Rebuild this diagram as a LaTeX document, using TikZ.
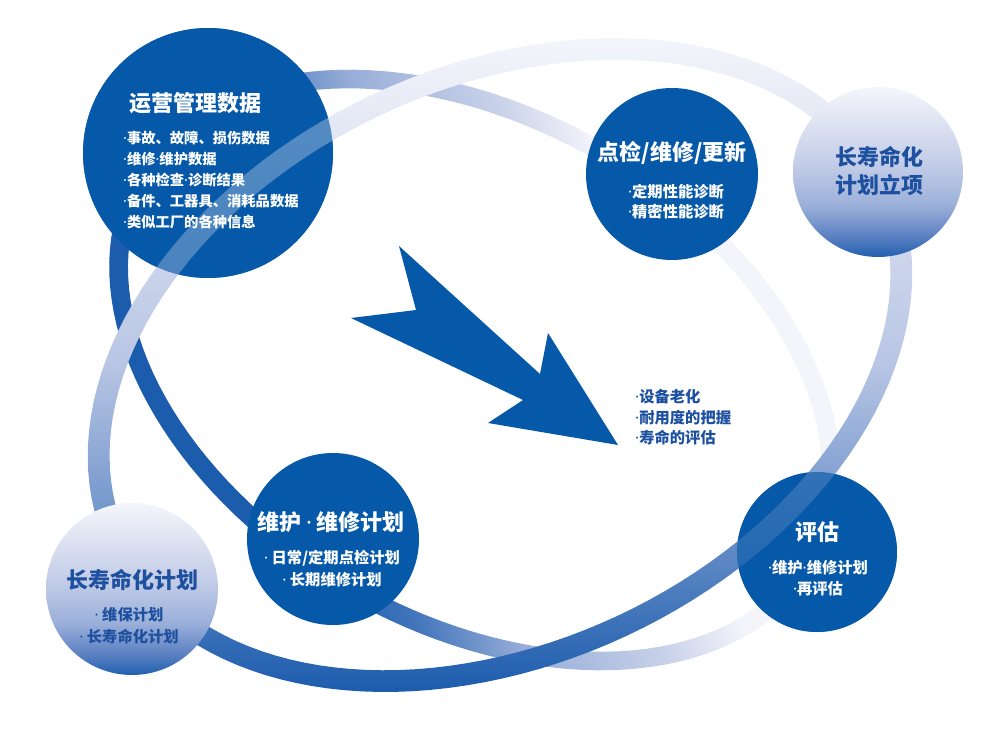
\documentclass[tikz,border=0pt]{standalone}
\usepackage{fontspec}
\newfontfamily\cjkfont{Noto Sans CJK SC}
\newfontfamily\dotfont{Noto Sans}
\newcommand{\dotmark}{{\dotfont ·}}
\definecolor{ballblue}{HTML}{0659A8}
\definecolor{inkblue}{HTML}{1E50A0}
\definecolor{ringdark}{HTML}{1C5CAD}
\definecolor{ringmid}{HTML}{B8C5E4}
\definecolor{ringpale}{HTML}{F4F5FB}
\definecolor{ringzmid}{HTML}{4074BA}
\definecolor{ringzlav}{HTML}{97ADD8}
\definecolor{ringzlight}{HTML}{C8D1E9}
\definecolor{ballbot}{HTML}{2160AF}
\definecolor{balllow}{HTML}{5A80C2}
\definecolor{ballmid}{HTML}{9AAFD9}
\definecolor{balllav}{HTML}{C2CCE7}
\definecolor{balltop}{HTML}{F5F6FB}
\pgfdeclarehorizontalshading{ringzshade}{100bp}{color(0bp)=(ringdark); color(35bp)=(ringdark); color(40.5bp)=(ringzmid); color(47.5bp)=(ringzlav); color(57bp)=(ringzlight); color(63bp)=(ringpale); color(100bp)=(ringpale)}
\pgfdeclareverticalshading{paleshade}{100bp}{color(0bp)=(ballbot); color(25bp)=(ballbot); color(31bp)=(balllow); color(40bp)=(ballmid); color(52bp)=(balllav); color(75bp)=(balltop); color(100bp)=(balltop)}
\begin{document}
\begin{tikzpicture}[x=1pt, y=-1pt]
\tikzstyle{darkball}=[circle, fill=ballblue, inner sep=0pt]
\tikzstyle{paleball}=[circle, shade, shading=paleshade, inner sep=0pt]
\tikzstyle{balltitle}=[font=\cjkfont\bfseries\fontsize{22}{28}\selectfont, text=white, inner sep=0pt, align=center]
\tikzstyle{balllist}=[font=\cjkfont\bfseries\fontsize{15.3}{21}\selectfont, text=white, inner sep=0pt, align=center]
\useasboundingbox (0,0) rectangle (983,739);
% inner ring, behind the dark circles
\shade[shading=ringzshade, shading angle=17, even odd rule]
  plot[domain=0:360, samples=145] ({475+394.5*cos(\x)*0.866-261.5*sin(\x)*0.5}, {370+394.5*cos(\x)*0.5+261.5*sin(\x)*0.866}) -- cycle
  plot[domain=360:0, samples=145] ({475+375.5*cos(\x)*0.866-242.5*sin(\x)*0.5}, {370+375.5*cos(\x)*0.5+242.5*sin(\x)*0.866}) -- cycle;
\node[darkball, minimum size=250pt] (data) at (208,153) {};
\node[darkball, minimum size=172pt] (check) at (672,174) {};
\node[darkball, minimum size=172pt] (maint) at (333,539) {};
\node[darkball, minimum size=160pt] (eval) at (817,552) {};
% outer ring, seen through the dark circles
\shade[top color=ringpale, bottom color=ringdark, middle color=ringmid, even odd rule]
  plot[domain=0:360, samples=145] ({500+433*cos(\x)*0.9063+299*sin(\x)*0.4226}, {365-433*cos(\x)*0.4226+299*sin(\x)*0.9063}) -- cycle
  plot[domain=360:0, samples=145] ({500+411*cos(\x)*0.9063+277*sin(\x)*0.4226}, {365-411*cos(\x)*0.4226+277*sin(\x)*0.9063}) -- cycle;
\fill[ballblue, fill opacity=0.65] (data.center) circle[radius=125pt];
\fill[ballblue, fill opacity=0.65] (eval.center) circle[radius=80pt];
\node[paleball, minimum size=170pt] (proj) at (878,172) {};
\node[paleball, minimum size=172pt] (plan) at (132,589) {};
% arrow
\fill[ballblue] (399,246) -- (416,310) -- (351,318) -- (523,400) -- (488,423) -- (618,445) -- (548,333) -- (540,374) -- cycle;
% texts
\node[balltitle] (datatitle) at (195,103) {运营管理数据};
\node[balllist, font=\cjkfont\bfseries\fontsize{14.3}{21}\selectfont, align=left, anchor=west] (datalist) at (123,180.4) {\dotmark{}事故、故障、损伤数据\\\dotmark{}维修\dotmark{}维护数据\\\dotmark{}各种检查\dotmark{}诊断结果\\\dotmark{}备件、工器具、消耗品数据\\\dotmark{}类似工厂的各种信息};
\node[balltitle] (checktitle) at (672,153) {点检/维修/更新};
\node[balllist, font=\cjkfont\bfseries\fontsize{15.3}{20}\selectfont] (checklist) at (676,202) {\dotmark{}定期性能诊断\\\dotmark{}精密性能诊断};
\node[balltitle, text=inkblue] (projtitle) at (879,171) {长寿命化\\计划立项};
\node[balltitle] (mainttitle) at (331,522) {维护 \dotmark{} 维修计划};
\node[balllist, font=\cjkfont\bfseries\fontsize{15.3}{22}\selectfont] (maintlist) at (332,569) {\dotmark{} 日常/定期点检计划\\\dotmark{} 长期维修计划};
\node[balltitle, text=inkblue] (plantitle) at (132,580) {长寿命化计划};
\node[balllist, text=inkblue, font=\cjkfont\bfseries\fontsize{15.3}{22}\selectfont] (planlist) at (129,626) {\dotmark{} 维保计划\\\dotmark{} 长寿命化计划};
\node[balltitle] (evaltitle) at (817,532) {评估};
\node[balllist] (evallist) at (818,578.5) {\dotmark{}维护\dotmark{}维修计划\\\dotmark{}再评估};
\node[balllist, text=inkblue, align=left, anchor=west, font=\cjkfont\bfseries\fontsize{15.3}{20.5}\selectfont] (agelist) at (635,417.3) {\dotmark{}设备老化\\\dotmark{}耐用度的把握\\\dotmark{}寿命的评估};
\end{tikzpicture}
\end{document}
